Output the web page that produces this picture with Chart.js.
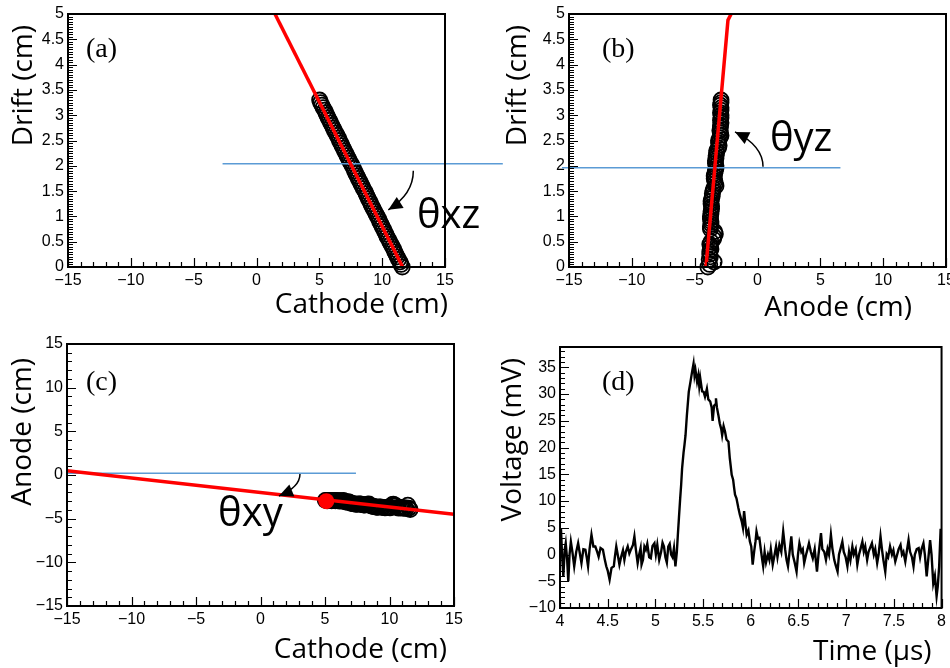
<!DOCTYPE html>
<html>
<head>
<meta charset="utf-8">
<script src="https://cdn.jsdelivr.net/npm/chart.js@4.4.1/dist/chart.umd.min.js"></script>
<style>
html, body { margin: 0; padding: 0; background: #fff; overflow: hidden; width: 950px; height: 668px; }
canvas { position: absolute; }
</style>
</head>
<body>
<canvas id="pa" width="520" height="330" style="left:0;top:0"></canvas>
<canvas id="pb" width="490" height="330" style="left:475px;top:0"></canvas>
<canvas id="pc" width="475" height="338" style="left:0;top:330px"></canvas>
<canvas id="pd" width="475" height="338" style="left:475px;top:330px"></canvas>
<script>
// hits of the track: drift position and the cathode / anode strip coordinate (cm)
const drift = [0.0, 0.05, 0.1, 0.15, 0.2, 0.25, 0.3, 0.35, 0.4, 0.45,
               0.5, 0.55, 0.6, 0.65, 0.7, 0.75, 0.8, 0.85, 0.9, 0.95,
               1.0, 1.05, 1.1, 1.15, 1.2, 1.25, 1.3, 1.35, 1.4, 1.45,
               1.5, 1.55, 1.6, 1.65, 1.7, 1.75, 1.8, 1.85, 1.9, 1.95,
               2.0, 2.05, 2.1, 2.15, 2.2, 2.25, 2.3, 2.35, 2.4, 2.45,
               2.5, 2.55, 2.6, 2.65, 2.7, 2.75, 2.8, 2.85, 2.9, 2.95,
               3.0, 3.05, 3.1, 3.15, 3.2, 3.25, 3.3];
const cathode = [11.6, 11.5, 11.42, 11.3, 11.2, 11.1, 11.0, 10.92, 10.82, 10.7,
                 10.6, 10.5, 10.38, 10.3, 10.2, 10.1, 10.0, 9.9, 9.8, 9.72,
                 9.62, 9.5, 9.4, 9.3, 9.18, 9.1, 9.0, 8.9, 8.8, 8.72,
                 8.62, 8.5, 8.4, 8.3, 8.2, 8.1, 8.0, 7.9, 7.8, 7.72,
                 7.62, 7.5, 7.4, 7.3, 7.2, 7.1, 7.0, 6.9, 6.8, 6.7,
                 6.6, 6.52, 6.42, 6.3, 6.2, 6.1, 6.0, 5.9, 5.8, 5.7,
                 5.6, 5.52, 5.42, 5.3, 5.2, 5.1, 5.02];
const anode = [-3.95, -3.8, -3.45, -3.85, -3.75, -3.8, -3.8, -3.7, -3.75, -3.8,
               -3.7, -3.5, -3.45, -3.35, -3.4, -3.75, -3.75, -3.7, -3.7, -3.75,
               -3.75, -3.7, -3.7, -3.65, -3.65, -3.7, -3.7, -3.65, -3.6, -3.6,
               -3.55, -3.5, -3.3, -3.35, -3.4, -3.45, -3.45, -3.4, -3.35, -3.3,
               -3.3, -3.35, -3.35, -3.3, -3.3, -3.25, -3.25, -3.1, -3.05, -3.1,
               -3.1, -3.0, -2.9, -2.95, -3.0, -2.95, -2.95, -2.9, -2.95, -2.9,
               -2.9, -2.95, -2.9, -2.9, -2.95, -2.9, -2.9];

// fitted lines and reference (horizontal) lines, [x, y]
const fitXZ  = [[1.47, 5], [11.63, 0]];
const baseXZ = [[-2.7, 2.04], [19.6, 2.04]];
const fitYZ  = [[-4.1, 0], [-2.35, 4.88], [-2.1, 5]];
const baseYZ = [[-15.56, 1.96], [6.6, 1.96]];
const fitXY  = [[-15, 0.5], [15, -4.5]];
const baseXY = [[-15, 0.2], [7.4, 0.2]];
const vertexXY = [[5.1, -3.0]];

// waveform (d)
const times = [4.0, 4.01, 4.02, 4.035, 4.05, 4.06, 4.075, 4.087, 4.1, 4.114, 4.13, 4.149, 4.17, 4.19, 4.21, 4.225,
  4.245, 4.266, 4.28, 4.294, 4.31, 4.33, 4.35, 4.37, 4.39, 4.405, 4.425, 4.45, 4.47, 4.485, 4.5, 4.52, 4.54, 4.564,
  4.575, 4.59, 4.61, 4.623, 4.64, 4.66, 4.675, 4.69, 4.71, 4.727, 4.745, 4.765, 4.78, 4.795, 4.814, 4.83, 4.845,
  4.855, 4.87, 4.885, 4.9, 4.915, 4.935, 4.952, 4.97, 4.99, 5.005, 5.02, 5.04, 5.06, 5.075, 5.09, 5.105, 5.12,
  5.135, 5.15, 5.165, 5.18, 5.195, 5.21, 5.225, 5.235, 5.247, 5.26, 5.27, 5.28, 5.295, 5.305, 5.316, 5.33, 5.35,
  5.365, 5.385, 5.4, 5.41, 5.42, 5.437, 5.45, 5.46, 5.47, 5.49, 5.506, 5.52, 5.54, 5.555, 5.575, 5.59, 5.6, 5.615,
  5.625, 5.635, 5.645, 5.66, 5.675, 5.69, 5.7, 5.715, 5.73, 5.745, 5.766, 5.78, 5.79, 5.8, 5.815, 5.825, 5.835,
  5.85, 5.87, 5.885, 5.905, 5.918, 5.93, 5.945, 5.957, 5.975, 5.99, 6.005, 6.02, 6.035, 6.05, 6.06, 6.075, 6.09,
  6.105, 6.12, 6.13, 6.145, 6.16, 6.18, 6.195, 6.21, 6.23, 6.25, 6.265, 6.28, 6.3, 6.32, 6.34, 6.36, 6.375, 6.39,
  6.41, 6.425, 6.44, 6.46, 6.48, 6.495, 6.51, 6.53, 6.545, 6.56, 6.58, 6.595, 6.61, 6.63, 6.65, 6.67, 6.694, 6.71,
  6.72, 6.736, 6.75, 6.77, 6.788, 6.805, 6.82, 6.84, 6.855, 6.875, 6.89, 6.91, 6.925, 6.94, 6.96, 6.975, 6.995,
  7.013, 7.03, 7.045, 7.065, 7.08, 7.1, 7.117, 7.135, 7.15, 7.17, 7.185, 7.2, 7.22, 7.235, 7.25, 7.27, 7.29, 7.305,
  7.325, 7.34, 7.36, 7.375, 7.39, 7.41, 7.425, 7.44, 7.46, 7.48, 7.495, 7.515, 7.535, 7.55, 7.57, 7.585, 7.6, 7.62,
  7.635, 7.654, 7.67, 7.69, 7.706, 7.72, 7.74, 7.76, 7.775, 7.79, 7.81, 7.825, 7.844, 7.86, 7.88, 7.895, 7.913,
  7.93, 7.948, 7.96, 7.975, 7.99, 8.0];
const volts = [3, 4.9, 0.5, -4.1, 1, 2.1, -1, -5.0, 0, 2.4, 0.5, -2.2, 0.5, 2.1, 0, -1.6,
  1, 0.9, -0.5, -2.2, 1, 3.7, 1.5, 1.5, 0.5, -0.4, 1.2, 0.9, -1, -2.2, -3, -4.7, -2.5, -2.2,
  -0.5, 1.5, -0.5, -1.9, -0.5, 0.8, -1, 0.5, 1.5, 0.2, 1, 1.8, 3.4, 1, -1.6, 0, 1.2,
  -1.9, -1, 1.5, 0.9, 2, -0.5, -0.7, 1.6, 2.1, 0, 1.8, -1, 0.5, 2.2, 1.5, -0.5, -1.5,
  1.5, 2, 0, -0.5, 1.2, -2.2, 0.5, 3.5, 6.9, 10.5, 13, 16.1, 19, 20.5, 22.3, 26, 30.4,
  32, 34.2, 35.7, 33.5, 34.5, 32.3, 33.5, 31.5, 33, 30.5, 30.4, 29.5, 31, 29, 28.6, 27.5, 25, 27.8,
  28, 29.2, 27.5, 26.1, 24.5, 23.5, 22.3, 24, 23, 21.5, 21.1, 18, 16.5, 14.9, 14, 12.5, 11.2,
  10.5, 8.7, 7.5, 6.2, 5, 8.1, 5.5, 3.7, 4.5, 2.5, 1.5, -1.9, 0.5, 2.5, 4.3, 3, 3.1,
  1, -1, -2.2, 0.5, -1.5, 0, -1, 1, -1.9, 0, 1.5, -0.5, 1.8, 0.5, 4.3, 1, -1, -2.2,
  1, 3.4, 0, -1.5, -3.2, 0, 2.1, 0.5, 1, -1.6, 0, 1, 2.1, 0.5, -0.7, 1, -3.2, 0,
  1.5, 4, 1, 0.5, -1, 1, 0, 3.7, 1.2, -1, -2, -3.2, 0, 1, 2.4, 0.5, -0.5,
  -2.2, 0.5, -1, 1.5, 0, 1, -1.9, 0, 1, 2.4, 0.5, 1.5, -1, 0.5, 1.2, 2.1, 0, 1,
  -1.6, 0, 3.4, 1, -1, -3.2, 0, -0.5, 1.5, 0, 0.8, -1.3, 0, 1, 1.8, 0, 0.5, -1.3,
  0.5, 2.7, 0.5, -0.5, -2.2, 0, 1, 1.2, -0.5, 1, 2.1, 0, -4.1, -1, 2.7, 0, -5.4,
  -4, -7.8, -6, -2.2, 4.6, 4.6];

const xy = arr => arr.map(p => ({ x: p[0], y: p[1] }));
const fmt = v => String(+v.toFixed(2)).replace('-', '\u2212');
const onStep = (v, s) => Math.abs(v / s - Math.round(v / s)) < 1e-6;

// ROOT-like frame: inner ticks, frame, titles, panel tag and angle arrow
const rootStyle = {
  id: 'rootStyle',
  afterDraw(chart, args, o) {
    const { ctx, chartArea: a, scales: { x, y } } = chart;
    ctx.save();
    ctx.strokeStyle = '#000';
    ctx.fillStyle = '#000';
    ctx.lineWidth = 1.2;
    ctx.beginPath();
    const nx = Math.floor((x.max - x.min) / o.xMinor + 1e-6);
    for (let i = 0; i <= nx; i++) {
      const v = x.min + i * o.xMinor;
      const p = Math.round(x.getPixelForValue(v)) + 0.5;
      ctx.moveTo(p, a.bottom);
      ctx.lineTo(p, a.bottom - (onStep(v, o.xMajor) ? 9 : 5));
    }
    const ny = Math.floor((y.max - y.min) / o.yMinor + 1e-6);
    for (let i = 0; i <= ny; i++) {
      const v = y.min + i * o.yMinor;
      const p = Math.round(y.getPixelForValue(v)) + 0.5;
      ctx.moveTo(a.left, p);
      ctx.lineTo(a.left + (onStep(v, o.yMajor) ? 9 : 5), p);
    }
    ctx.stroke();
    ctx.lineWidth = 2;
    ctx.strokeRect(a.left, a.top, a.right - a.left, a.bottom - a.top);

    ctx.textBaseline = 'middle';
    ctx.textAlign = 'left';
    ctx.font = '28px "Liberation Serif"';
    ctx.fillText(o.tag, a.left + o.tagPos[0], a.top + o.tagPos[1]);

    ctx.font = '28px "Open Sans"';
    ctx.textAlign = 'right';
    ctx.fillText(o.xTitle[0], a.right + o.xTitle[1], a.bottom + o.xTitle[2]);
    ctx.save();
    ctx.translate(a.left + o.yTitle[1], a.top + o.yTitle[2]);
    ctx.rotate(-Math.PI / 2);
    ctx.fillText(o.yTitle[0], 0, 0);
    ctx.restore();

    if (o.angle) {
      const g = o.angle;
      const sx = x.getPixelForValue(g.from[0]), sy = y.getPixelForValue(g.from[1]);
      const tx = x.getPixelForValue(g.to[0]), ty = y.getPixelForValue(g.to[1]);
      const cx = sx, cy = sy + 0.6 * (ty - sy);
      ctx.lineWidth = 1.5;
      ctx.beginPath();
      ctx.moveTo(sx, sy);
      ctx.quadraticCurveTo(cx, cy, tx, ty);
      ctx.stroke();
      const ang = Math.atan2(ty - cy, tx - cx);
      const L = 14, W = 6.5;
      const bx = tx - L * Math.cos(ang), by = ty - L * Math.sin(ang);
      ctx.beginPath();
      ctx.moveTo(tx, ty);
      ctx.lineTo(bx + W * Math.sin(ang), by - W * Math.cos(ang));
      ctx.lineTo(bx - W * Math.sin(ang), by + W * Math.cos(ang));
      ctx.closePath();
      ctx.fill();
      ctx.font = '40px "Open Sans"';
      ctx.textAlign = 'left';
      ctx.fillText(g.text, x.getPixelForValue(g.at[0]), y.getPixelForValue(g.at[1]));
    }
    ctx.restore();
  }
};

function axis(min, max, step, size) {
  return {
    type: 'linear', min: min, max: max,
    grid: { display: false, drawTicks: false },
    border: { display: false },
    ticks: {
      stepSize: step, includeBounds: false, autoSkip: false, maxRotation: 0,
      color: '#000', padding: 4,
      font: { family: '"Liberation Sans", Arial, sans-serif', size: 16 },
      callback: v => onStep(v, step) ? fmt(v) : ''
    },
    afterFit: s => { if (s.isHorizontal()) s.height = size; else s.width = size; }
  };
}

function panel(id, datasets, scales, pad, style) {
  new Chart(document.getElementById(id), {
    type: 'scatter',
    data: { datasets: datasets },
    options: {
      responsive: false,
      animation: false,
      layout: { padding: pad },
      scales: scales,
      plugins: { legend: { display: false }, tooltip: { enabled: false }, rootStyle: style }
    },
    plugins: [rootStyle]
  });
}

const hitStyle = { pointRadius: 7.5, pointBorderColor: '#000', pointBackgroundColor: 'rgba(0,0,0,0)', pointBorderWidth: 1.8, clip: false };
const redLine = { showLine: true, borderColor: '#ff0000', borderWidth: 3.5, pointRadius: 0 };
const blueLine = { showLine: true, borderColor: '#5b9bd5', borderWidth: 1.5, pointRadius: 0, clip: false };

// (a) cathode vs drift
panel('pa', [
  Object.assign({ data: xy(fitXZ) }, redLine),
  Object.assign({ data: xy(baseXZ) }, blueLine),
  Object.assign({ data: drift.map((d, i) => ({ x: cathode[i], y: d })) }, hitStyle)
], {
  x: axis(-15, 15, 5, 63),
  y: axis(0, 5, 0.5, 68)
}, { top: 14, right: 75, left: 0, bottom: 0 }, {
  xMajor: 5, xMinor: 1, yMajor: 0.5, yMinor: 0.05, tag: '(a)', tagPos: [18, 36],
  xTitle: ['Cathode (cm)', 3, 38], yTitle: ['Drift (cm)', -44, 11],
  angle: { text: '\u03b8xz', at: [12.77, 0.99], from: [12.48, 1.9], to: [10.49, 1.13] }
});

// (b) anode vs drift
panel('pb', [
  Object.assign({ data: xy(fitYZ) }, redLine),
  Object.assign({ data: xy(baseYZ) }, blueLine),
  Object.assign({ data: drift.map((d, i) => ({ x: anode[i], y: d })) }, hitStyle)
], {
  x: axis(-15, 15, 5, 63),
  y: axis(0, 5, 0.5, 94)
}, { top: 14, right: 19, left: 0, bottom: 0 }, {
  xMajor: 5, xMinor: 1, yMajor: 0.5, yMinor: 0.05, tag: '(b)', tagPos: [33, 36],
  xTitle: ['Anode (cm)', -34, 41], yTitle: ['Drift (cm)', -51, 11],
  angle: { text: '\u03b8yz', at: [0.99, 2.51], from: [0.44, 1.98], to: [-1.79, 2.67] }
});

// (c) cathode vs anode
panel('pc', [
  { data: xy(vertexXY), pointRadius: 8, pointBackgroundColor: '#ff0000', pointBorderColor: '#ff0000', pointBorderWidth: 0, clip: false },
  Object.assign({ data: xy(fitXY) }, redLine),
  Object.assign({ data: xy(baseXY) }, blueLine),
  Object.assign({ data: cathode.map((c, i) => ({ x: c, y: anode[i] })) }, hitStyle)
], {
  x: axis(-15, 15, 5, 62),
  y: axis(-15, 15, 5, 67)
}, { top: 14, right: 21, left: 0, bottom: 0 }, {
  xMajor: 5, xMinor: 1, yMajor: 5, yMinor: 1, tag: '(c)', tagPos: [19, 39],
  xTitle: ['Cathode (cm)', -7, 44], yTitle: ['Anode (cm)', -44, 14],
  angle: { text: '\u03b8xy', at: [-3.29, -4.58], from: [3.06, 0.11], to: [1.43, -2.4] }
});

// (d) signal waveform
panel('pd', [
  { data: times.map((t, i) => ({ x: t, y: volts[i] })), showLine: true, borderColor: '#000', borderWidth: 2.4, pointRadius: 0 }
], {
  x: axis(4, 8, 0.5, 60),
  y: axis(-10, 38.8, 5, 85)
}, { top: 17, right: 5, left: 0, bottom: 0 }, {
  xMajor: 0.5, xMinor: 0.1, yMajor: 5, yMinor: 1, tag: '(d)', tagPos: [42, 36],
  xTitle: ['Time (\u03bcs)', -10, 44], yTitle: ['Voltage (mV)', -47, 11]
});
</script>
</body>
</html>
